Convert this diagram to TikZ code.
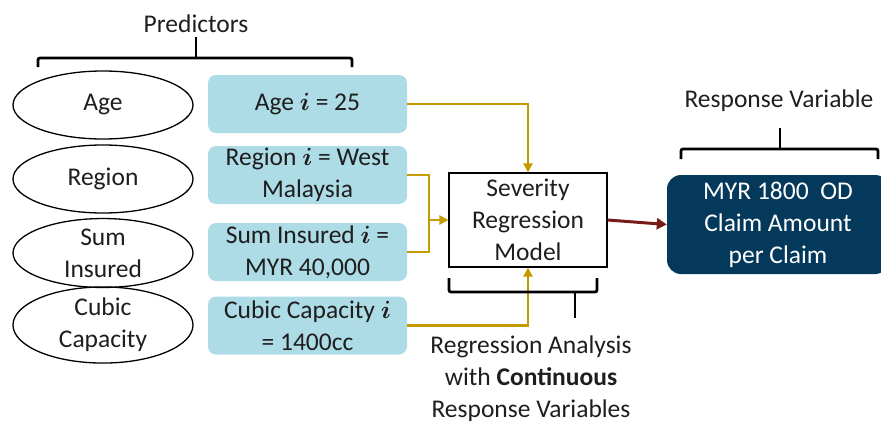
\documentclass[tikz,border=0pt]{standalone}
\usepackage{fontspec}
\usepackage{amsmath}
\setmainfont{Carlito}
\usetikzlibrary{arrows.meta,shapes.geometric}
\definecolor{boxblue}{RGB}{173,219,230}
\definecolor{navy}{RGB}{4,57,92}
\definecolor{gold}{RGB}{196,156,0}
\definecolor{wine}{RGB}{118,26,26}
\definecolor{ink}{RGB}{30,30,30}
\tikzset{
  txt/.style={font=\fontsize{25.5}{32}\selectfont, text=ink, align=center},
  ell/.style={txt, draw=black, line width=1.3pt, ellipse, minimum width=180pt, minimum height=68pt, inner sep=0pt},
  valbox/.style={txt, fill=boxblue, rounded corners=8pt, minimum width=199pt, minimum height=58pt, inner sep=0pt},
  model/.style={txt, draw=black, line width=1.2pt, minimum width=158pt, minimum height=94pt, inner sep=0pt},
  resp/.style={txt, text=white, fill=navy, rounded corners=14pt, minimum width=222pt, minimum height=99pt, inner sep=0pt},
  feed/.style={draw=gold, line width=2.6pt},
  feedarrow/.style={feed, -{Triangle[length=9pt,width=9pt]}},
  outarrow/.style={draw=wine, line width=3pt, -{Triangle[length=10pt,width=11pt]}},
  bracket/.style={draw=black, line width=2.8pt, rounded corners=2pt},
}
% the observation index, set in bold math italic
\newcommand{\idx}{$\boldsymbol{i}$}
\begin{document}
\begin{tikzpicture}[x=1pt,y=-1pt]
\useasboundingbox (0,0) rectangle (881,423);

% predictor names
\node[ell] (e1) at (103,105) {Age};
\node[ell] (e2) at (103,179) {Region};
\node[ell] (e3) at (103,253) {Sum\\Insured};
\node[ell] (e4) at (103,325) {Cubic\\Capacity};

% predictor values
\node[valbox] (b1) at (307.5,104) {Age \idx{} = 25};
\node[valbox] (b2) at (307.5,175) {Region \idx{} = West\\Malaysia};
\node[valbox] (b3) at (307.5,252) {Sum Insured \idx{} =\\MYR 40,000};
\node[valbox] (b4) at (307.5,325.5) {Cubic Capacity \idx\\= 1400cc};

% model and response
\node[model] (sev) at (528,220) {Severity\\Regression\\Model};
\node[resp] (out) at (778,224.5) {MYR 1800\ \ OD\\Claim Amount\\per Claim};

% labels
\node[txt] (lp) at (196,24) {Predictors};
\node[txt] (lr) at (779,101) {Response Variable};
\node[txt] (lb) at (531,379) {Regression Analysis\\with \textbf{Continuous}\\Response Variables};

% feeds into the model
\coordinate (j) at (429,220);
\draw[feedarrow] (b1.east) -| (sev.north);
\draw[feed] (b2.east) -| (j);
\draw[feed] (b3.east) -| (j);
\draw[feedarrow] (j) -- (sev.west);
\draw[feedarrow] (b4.east) -| (sev.south);
\draw[outarrow] (sev.east) -- (out.west);

% brackets
\draw[bracket] (38,67) -- (38,58) -- (352,58) -- (352,67);
\draw[bracket, rounded corners=0pt] (196,58) -- (196,37);
\draw[bracket] (681,159) -- (681,149) -- (878,149) -- (878,159);
\draw[bracket, rounded corners=0pt] (780,149) -- (780,128);
\draw[bracket] (449,278) -- (449,292) -- (597,292) -- (597,278);
\draw[bracket, rounded corners=0pt] (575,292) -- (575,318);
\end{tikzpicture}
\end{document}
